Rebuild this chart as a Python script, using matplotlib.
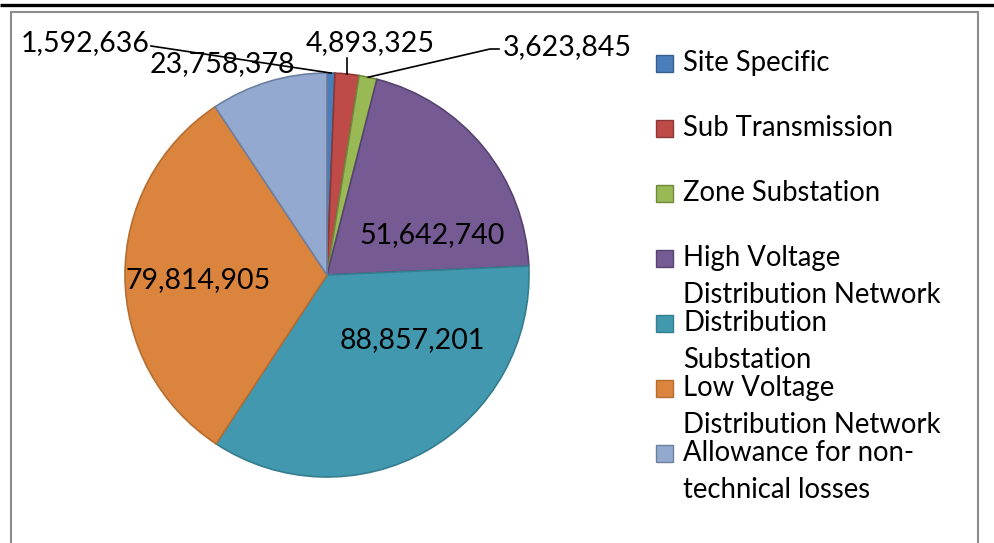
import numpy as np
import matplotlib.pyplot as plt
from matplotlib.patches import Rectangle

plt.rcParams['font.family'] = ['Lato', 'DejaVu Sans']

# Chart data
categories = ['Site Specific', 'Sub Transmission', 'Zone Substation',
              'High Voltage\nDistribution Network', 'Distribution\nSubstation',
              'Low Voltage\nDistribution Network', 'Allowance for non-\ntechnical losses']
values = [1592636, 4893325, 3623845, 51642740, 88857201, 79814905, 23758378]
colors = ['#4A7EBB', '#BE4B48', '#98B954', '#755A93', '#4198AF', '#DB843D', '#93A9CF']
edges = ['#385D8A', '#8C3836', '#71893F', '#574370', '#357D8F', '#B66D31', '#6E80A0']

W, H = 995, 543


def py(y):
    # pixel row (from top) -> data y
    return H - y


fig = plt.figure(figsize=(W / 100, H / 100), dpi=100)
ax = fig.add_axes([0, 0, 1, 1])

# frame lines
ax.plot([0, W], [py(5), py(5)], color='black', lw=2.4, solid_capstyle='butt')
ax.add_patch(Rectangle((11, -5), 967, py(12) + 5, fill=False, edgecolor='#8C8C8C', lw=1.5))

cx, cy, r = 327, py(275), 202
wedges, _ = ax.pie(values, colors=colors, startangle=90, counterclock=False,
                   center=(cx, cy), radius=r, frame=True,
                   wedgeprops=dict(linewidth=1.2))
for w, ec in zip(wedges, edges):
    w.set_edgecolor(ec)
ax.set_xlim(0, W)
ax.set_ylim(0, H)
ax.set_aspect('auto')
ax.axis('off')

fmt = ['{:,}'.format(v) for v in values]
fs = 20.5


def edge_pt(w, frac=1.0):
    a = np.deg2rad((w.theta1 + w.theta2) / 2)
    return cx + r * frac * np.cos(a), cy + r * frac * np.sin(a)


# inside labels
ax.text(432, py(235), fmt[3], fontsize=fs, ha='center', va='center')
ax.text(412, py(340), fmt[4], fontsize=fs, ha='center', va='center')
ax.text(198, py(280), fmt[5], fontsize=fs, ha='center', va='center')

# outside labels with leaders
ax.text(85, py(43), fmt[0], fontsize=fs, ha='center', va='center')
x0, y0 = edge_pt(wedges[0])
ax.plot([151, x0], [py(46), y0], color='black', lw=1.2)

ax.text(370, py(43), fmt[1], fontsize=fs, ha='center', va='center')
x1, y1 = edge_pt(wedges[1])
ax.plot([x1, x1], [y1, py(58)], color='black', lw=1.2)

ax.text(567, py(47), fmt[2], fontsize=fs, ha='center', va='center')
x2, y2 = edge_pt(wedges[2])
ax.plot([x2, 490, 499], [y2, py(49), py(49)], color='black', lw=1.2)

ax.text(222, py(64), fmt[6], fontsize=fs, ha='center', va='center')

# legend
for i, (lab, c, ec) in enumerate(zip(categories, colors, edges)):
    yc = 63 + 65 * i
    ax.add_patch(Rectangle((656, py(yc) - 8.5), 17, 17, facecolor=c, edgecolor=ec, lw=1))
    for j, line in enumerate(lab.split('\n')):
        ax.text(683, py(yc + 37 * j), line, fontsize=19.8, ha='left', va='center')

fig.savefig('out.png', dpi=100)
